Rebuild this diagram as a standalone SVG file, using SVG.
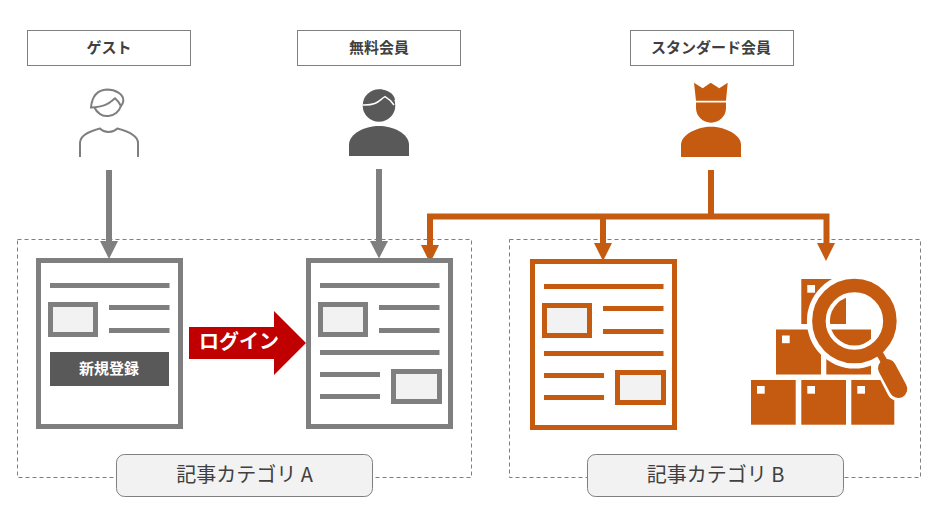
<svg xmlns="http://www.w3.org/2000/svg" width="938" height="520" viewBox="0 0 938 520">
<style>
text{font-family:"Noto Sans CJK JP","Noto Sans",sans-serif;text-anchor:middle}
.lab{font-size:15px;font-weight:700;fill:#404040}
.hd{fill:#fff;stroke:#7f7f7f;stroke-width:1}
.zone{fill:none;stroke:#7f7f7f;stroke-width:1;stroke-dasharray:4 3}
.cap{fill:#f2f2f2;stroke:#7f7f7f;stroke-width:1}
.capt{font-size:20px;fill:#404040}
.g .pg{fill:#fff;stroke:#7f7f7f;stroke-width:5}
.g .im{fill:#f2f2f2;stroke:#7f7f7f;stroke-width:5}
.g .ln{stroke:#7f7f7f;stroke-width:5;fill:none}
.o .pg{fill:#fff;stroke:#c55a11;stroke-width:5}
.o .im{fill:#f2f2f2;stroke:#c55a11;stroke-width:5}
.o .ln{stroke:#c55a11;stroke-width:5;fill:none}
.cg{fill:none;stroke:#7f7f7f;stroke-width:6}
.co{fill:none;stroke:#c55a11;stroke-width:6}
.box{fill:#c55a11}
.hole{fill:#fff}
</style>
<defs>
<clipPath id="lens"><circle cx="854.4" cy="321" r="24.5"/></clipPath>
<g id="boxes">
<rect x="801.3" y="279" width="44.7" height="45"/>
<rect x="776" y="329.5" width="45" height="45"/>
<rect x="826.3" y="329.5" width="44.7" height="45"/>
</g>
</defs>
<g id="zones">
<rect class="zone" x="17.5" y="239.5" width="454" height="238"/>
<rect class="zone" x="509.5" y="239.5" width="411" height="238"/>
</g>
<g id="connectors">
<path class="cg" d="M109 170V243"/>
<path d="M100 241H118L109 259Z" fill="#7f7f7f"/>
<path class="cg" d="M379 169V243"/>
<path d="M370 241H388L379 258.500Z" fill="#7f7f7f"/>
<path class="co" d="M711 170V216.500M430 247V216.500H826.500V245M603 216.500V245"/>
<path d="M421 245H439L430 263Z" fill="#c55a11"/>
<path d="M594 243H612L603 261Z" fill="#c55a11"/>
<path d="M817 243H835L826 261Z" fill="#c55a11"/>
</g>
<g id="guest-label"><rect class="hd" x="27.500" y="30.500" width="163" height="35"/><text class="lab" x="109" y="53">ゲスト</text></g>
<g id="free-label"><rect class="hd" x="297.500" y="30.500" width="163" height="35"/><text class="lab" x="379" y="53">無料会員</text></g>
<g id="standard-label"><rect class="hd" x="630.500" y="30.500" width="163" height="35"/><text class="lab" x="711" y="53">スタンダード会員</text></g>
<g id="guest-icon" fill="none" stroke="#7f7f7f" stroke-width="2">
<path d="M80 157V143C80 135 90 131 100 128.500C104 133 113 133 117.300 128.500C127 131 138 135 138 143V157"/>
<path d="M94.500 107.500A14 14 0 0 0 121 105.500"/>
<path d="M91 107.500C92 96 98 90 107 89.500C115 89.500 124 94 123.300 101C123 103 122 105 121 106C119 102 117 100 115 98.300C110 102 107 107 91 107.500Z"/>
</g>
<g id="free-icon">
<circle cx="379" cy="105.500" r="16.300" fill="#595959"/>
<path d="M395 100C394 93 387 89.500 379 89.500V100Z" fill="#595959"/>
<path d="M362.700 105C378 105.500 379 100 385 96.700C389 99 392 102 394 105" fill="none" stroke="#fff" stroke-width="1.500"/>
<path d="M349 156V145C349 133 366 126 379 126C392 126 409 133 409 145V156Z" fill="#595959"/>
</g>
<g id="standard-icon" fill="#c55a11">
<path d="M694 82.700L702.700 88.300L710.700 82.700L719.300 88.300L727.700 82.700L726 100.700H696Z"/>
<path d="M696 102.500H726V107.700A15 15 0 0 1 696 107.700Z"/>
<path d="M681 157V145C681 134 698 126.700 711 126.700C724 126.700 741 134 741 145V157Z"/>
</g>
<g id="article-a" class="g">
<rect class="pg" x="38.500" y="260.500" width="142" height="166"/>
<path class="ln" d="M50 285.500H169.500M109 307.500H169.500M109 330.500H169.500"/>
<rect class="im" x="50.500" y="304.500" width="45" height="30"/>
<rect x="50" y="352" width="119" height="34" fill="#595959"/>
<text x="109" y="374" font-size="15" font-weight="700" fill="#fff">新規登録</text>
</g>
<g id="login-arrow">
<path d="M189 327H274V311L306 343L274 375V359H189Z" fill="#c00000"/>
<text x="239" y="349" font-size="20" font-weight="700" fill="#fff">ログイン</text>
</g>
<g id="article-a2" class="g">
<rect class="pg" x="308.500" y="260.500" width="142" height="166"/>
<path class="ln" d="M320 285.500H439.500M379 307.500H439.500M379 330.500H439.500M320 352.500H439.500M320 374.500H380M320 396.500H380"/>
<rect class="im" x="320.500" y="304.500" width="45" height="30"/>
<rect class="im" x="393.500" y="371.500" width="46" height="30"/>
</g>
<g id="article-b" class="o">
<rect class="pg" x="532.500" y="261.500" width="142" height="166"/>
<path class="ln" d="M544 286.500H663.500M603 308.500H663.500M603 331.500H663.500M544 353.500H663.500M544 375.500H604M544 397.500H604"/>
<rect class="im" x="544.500" y="305.500" width="45" height="30"/>
<rect class="im" x="617.500" y="372.500" width="46" height="30"/>
</g>
<g id="search-icon">
<g class="box">
<use href="#boxes"/>
<rect x="751" y="380" width="44.700" height="44.700"/>
<rect x="801.300" y="380" width="44.700" height="44.700"/>
<rect x="851.300" y="380" width="43" height="44.700"/>
</g>
<g class="hole">
<rect x="807.300" y="285" width="7.700" height="7.700"/>
<rect x="782" y="335.500" width="7.700" height="7.700"/>
<rect x="757" y="386" width="7.700" height="7.700"/>
<rect x="807.300" y="386" width="7.700" height="7.700"/>
<rect x="857.300" y="386" width="7.700" height="7.700"/>
</g>
<circle cx="854.400" cy="321" r="47.500" fill="#fff"/>
<path d="M878 349L898.500 389" stroke="#fff" stroke-width="24" stroke-linecap="round" fill="none"/>
<use href="#boxes" class="box" clip-path="url(#lens)"/>
<circle cx="854.400" cy="321" r="35.500" fill="none" stroke="#c55a11" stroke-width="13.500"/>
<path d="M877 349L888 368" stroke="#c55a11" stroke-width="7" fill="none"/>
<path d="M887 368L898.300 389" stroke="#c55a11" stroke-width="18" stroke-linecap="round" fill="none"/>
</g>
<g id="cat-a"><rect class="cap" x="116.500" y="454.500" width="256" height="42" rx="8"/><text class="capt" x="244.500" y="482">記事カテゴリ A</text></g>
<g id="cat-b"><rect class="cap" x="587.500" y="454.500" width="256" height="42" rx="8"/><text class="capt" x="715.500" y="482">記事カテゴリ B</text></g>
</svg>
